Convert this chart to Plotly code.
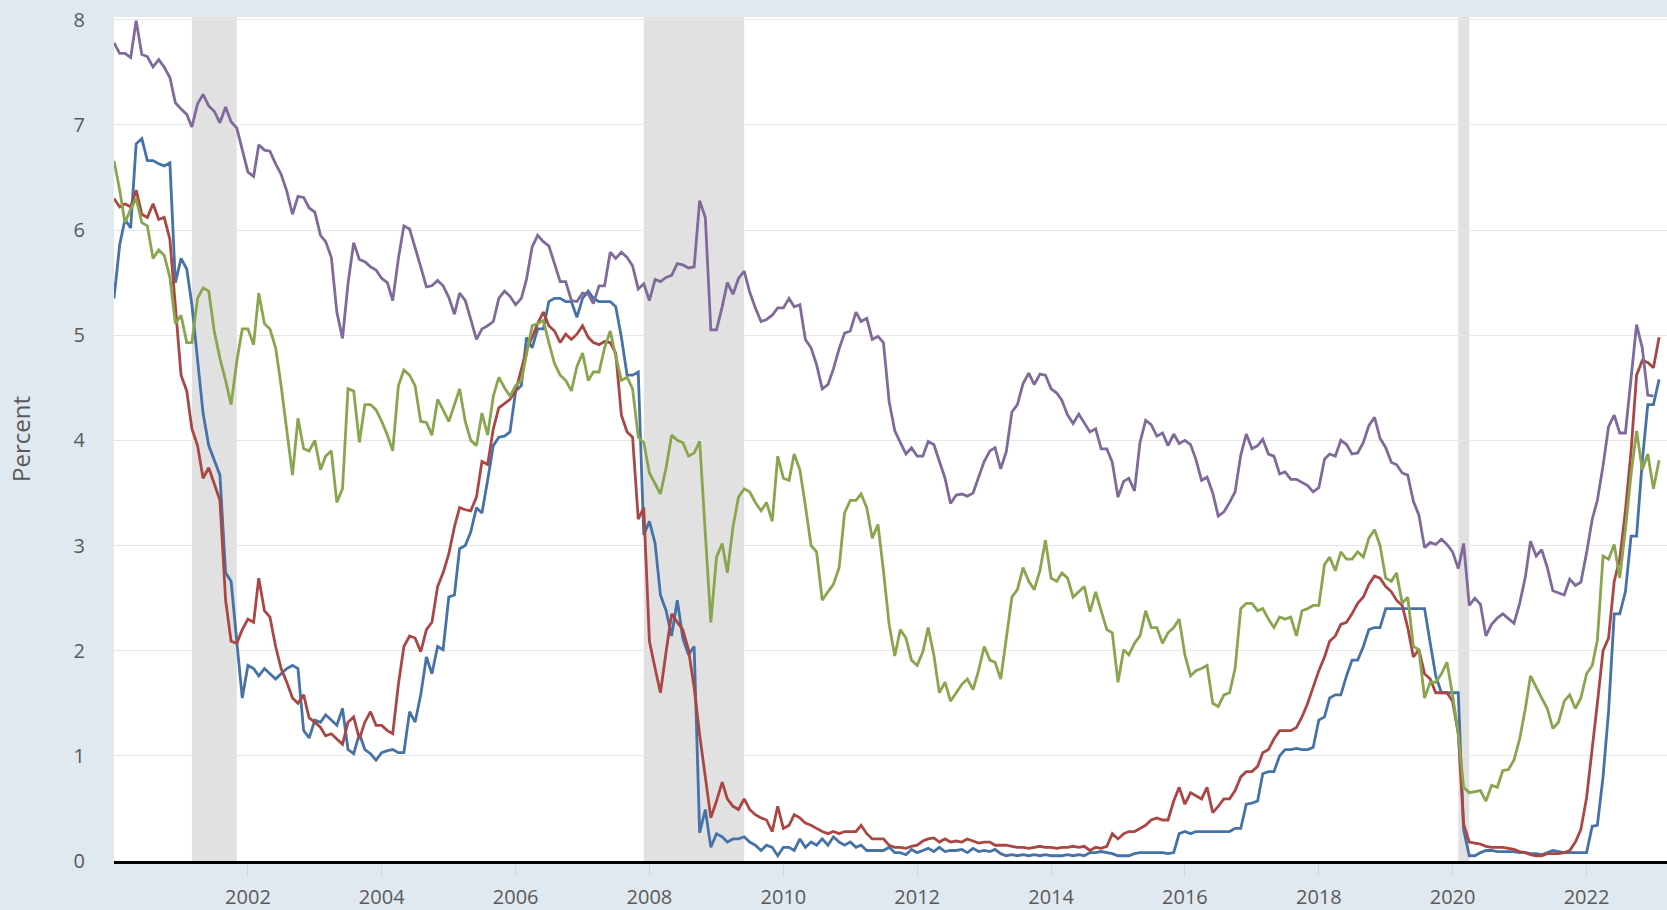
import pandas as pd
import plotly.graph_objects as go

blue = [
    5.35, 5.86, 6.10, 6.02, 6.82, 6.87, 6.66, 6.66, 6.63, 6.61, 6.64, 5.50,
    5.73, 5.63, 5.29, 4.73, 4.26, 3.95, 3.82, 3.67, 2.74, 2.66, 2.09, 1.55,
    1.86, 1.83, 1.76, 1.83, 1.78, 1.73, 1.78, 1.83, 1.86, 1.83, 1.24, 1.17,
    1.34, 1.32, 1.39, 1.34, 1.29, 1.45, 1.06, 1.02, 1.21, 1.06, 1.02, 0.96,
    1.03, 1.05, 1.06, 1.03, 1.03, 1.42, 1.32, 1.58, 1.94, 1.78, 2.04, 2.01,
    2.51, 2.53, 2.97, 3.00, 3.13, 3.36, 3.31, 3.62, 3.95, 4.03, 4.04, 4.08,
    4.47, 4.52, 4.98, 4.88, 5.06, 5.06, 5.32, 5.35, 5.35, 5.32, 5.32, 5.17,
    5.35, 5.42, 5.35, 5.32, 5.32, 5.32, 5.27, 4.98, 4.62, 4.62, 4.65, 3.10,
    3.23, 3.02, 2.53, 2.38, 2.14, 2.48, 2.12, 1.96, 2.04, 0.27, 0.49, 0.13,
    0.26, 0.23, 0.18, 0.21, 0.21, 0.23, 0.18, 0.15, 0.10, 0.15, 0.13, 0.05,
    0.13, 0.13, 0.10, 0.21, 0.13, 0.18, 0.15, 0.21, 0.15, 0.23, 0.18, 0.15,
    0.18, 0.13, 0.15, 0.10, 0.10, 0.10, 0.10, 0.13, 0.08, 0.08, 0.06, 0.11,
    0.08, 0.10, 0.12, 0.09, 0.13, 0.09, 0.10, 0.10, 0.11, 0.08, 0.12, 0.09,
    0.10, 0.09, 0.11, 0.07, 0.05, 0.06, 0.05, 0.06, 0.05, 0.06, 0.05, 0.06,
    0.05, 0.05, 0.05, 0.06, 0.05, 0.06, 0.05, 0.08, 0.08, 0.09, 0.08, 0.07,
    0.05, 0.05, 0.05, 0.07, 0.08, 0.08, 0.08, 0.08, 0.08, 0.07, 0.08, 0.26,
    0.28, 0.26, 0.28, 0.28, 0.28, 0.28, 0.28, 0.28, 0.28, 0.31, 0.31, 0.54,
    0.55, 0.57, 0.83, 0.85, 0.85, 1.00, 1.06, 1.06, 1.07, 1.06, 1.06, 1.08,
    1.34, 1.37, 1.55, 1.58, 1.58, 1.76, 1.91, 1.91, 2.04, 2.20, 2.22, 2.22,
    2.40, 2.40, 2.40, 2.40, 2.40, 2.40, 2.40, 2.40, 2.07, 1.76, 1.60, 1.60,
    1.60, 1.60, 0.30, 0.05, 0.05, 0.08, 0.10, 0.10, 0.09, 0.09, 0.09, 0.09,
    0.08, 0.08, 0.07, 0.07, 0.06, 0.08, 0.10, 0.09, 0.08, 0.08, 0.08, 0.08,
    0.08, 0.33, 0.34, 0.80, 1.42, 2.35, 2.35, 2.56, 3.09, 3.09, 3.80, 4.34,
    4.34, 4.58,
]

red = [
    6.30, 6.22, 6.25, 6.22, 6.38, 6.15, 6.12, 6.25, 6.10, 6.12, 5.91, 5.29,
    4.62, 4.47, 4.11, 3.95, 3.64, 3.74, 3.59, 3.43, 2.48, 2.09, 2.07, 2.20,
    2.30, 2.27, 2.69, 2.38, 2.32, 2.04, 1.83, 1.70, 1.55, 1.50, 1.58, 1.36,
    1.32, 1.27, 1.19, 1.21, 1.16, 1.11, 1.32, 1.37, 1.16, 1.32, 1.42, 1.29,
    1.29, 1.24, 1.21, 1.68, 2.04, 2.14, 2.12, 1.99, 2.20, 2.27, 2.61, 2.74,
    2.92, 3.18, 3.36, 3.34, 3.33, 3.46, 3.80, 3.77, 4.11, 4.31, 4.35, 4.39,
    4.47, 4.67, 4.86, 4.98, 5.11, 5.22, 5.09, 5.04, 4.93, 5.01, 4.96, 5.01,
    5.09, 4.98, 4.93, 4.91, 4.94, 4.93, 4.83, 4.24, 4.08, 4.03, 3.25, 3.36,
    2.09, 1.83, 1.60, 1.99, 2.35, 2.27, 2.20, 2.01, 1.65, 1.20, 0.80, 0.41,
    0.57, 0.75, 0.59, 0.52, 0.49, 0.59, 0.49, 0.44, 0.41, 0.39, 0.28, 0.52,
    0.31, 0.34, 0.44, 0.41, 0.36, 0.34, 0.31, 0.28, 0.26, 0.28, 0.26, 0.28,
    0.28, 0.28, 0.34, 0.26, 0.21, 0.21, 0.21, 0.15, 0.13, 0.13, 0.12, 0.14,
    0.15, 0.19, 0.21, 0.22, 0.18, 0.21, 0.18, 0.19, 0.18, 0.21, 0.19, 0.17,
    0.18, 0.18, 0.15, 0.15, 0.15, 0.14, 0.13, 0.13, 0.12, 0.13, 0.14, 0.13,
    0.13, 0.12, 0.13, 0.13, 0.14, 0.13, 0.14, 0.10, 0.13, 0.12, 0.14, 0.26,
    0.21, 0.26, 0.28, 0.28, 0.31, 0.34, 0.39, 0.41, 0.39, 0.39, 0.57, 0.70,
    0.54, 0.65, 0.62, 0.59, 0.70, 0.46, 0.52, 0.59, 0.59, 0.67, 0.80, 0.85,
    0.85, 0.90, 1.03, 1.06, 1.16, 1.24, 1.24, 1.24, 1.27, 1.37, 1.50, 1.65,
    1.81, 1.94, 2.09, 2.14, 2.25, 2.27, 2.35, 2.45, 2.51, 2.63, 2.71, 2.69,
    2.61, 2.56, 2.48, 2.43, 2.22, 1.94, 2.01, 1.78, 1.73, 1.60, 1.60, 1.60,
    1.52, 1.21, 0.35, 0.18, 0.17, 0.16, 0.14, 0.13, 0.13, 0.13, 0.12, 0.11,
    0.09, 0.08, 0.06, 0.05, 0.05, 0.07, 0.07, 0.07, 0.08, 0.10, 0.18, 0.30,
    0.60, 1.05, 1.50, 2.00, 2.12, 2.66, 2.87, 3.33, 3.90, 4.62, 4.76, 4.74,
    4.69, 4.98,
]

green = [
    6.66, 6.38, 6.07, 6.20, 6.30, 6.07, 6.04, 5.73, 5.81, 5.76, 5.55, 5.11,
    5.19, 4.93, 4.93, 5.35, 5.45, 5.42, 5.04, 4.78, 4.57, 4.34, 4.75, 5.06,
    5.06, 4.91, 5.40, 5.11, 5.06, 4.88, 4.52, 4.11, 3.67, 4.21, 3.92, 3.90,
    4.00, 3.72, 3.85, 3.90, 3.41, 3.54, 4.49, 4.47, 3.98, 4.34, 4.34, 4.29,
    4.18, 4.05, 3.90, 4.52, 4.67, 4.62, 4.52, 4.18, 4.17, 4.05, 4.39, 4.29,
    4.18, 4.34, 4.49, 4.18, 4.00, 3.95, 4.26, 4.05, 4.42, 4.60, 4.50, 4.42,
    4.52, 4.57, 4.83, 5.09, 5.11, 5.14, 4.93, 4.73, 4.62, 4.57, 4.47, 4.70,
    4.83, 4.57, 4.65, 4.65, 4.88, 5.04, 4.80, 4.57, 4.60, 4.49, 4.03, 3.98,
    3.69, 3.59, 3.49, 3.74, 4.05, 4.00, 3.98, 3.85, 3.88, 3.99, 3.13, 2.27,
    2.89, 3.02, 2.74, 3.18, 3.46, 3.54, 3.51, 3.41, 3.33, 3.41, 3.23, 3.85,
    3.64, 3.62, 3.87, 3.72, 3.38, 3.00, 2.94, 2.48, 2.56, 2.63, 2.79, 3.31,
    3.43, 3.43, 3.49, 3.36, 3.07, 3.20, 2.76, 2.25, 1.95, 2.20, 2.12, 1.91,
    1.86, 1.99, 2.22, 1.96, 1.60, 1.70, 1.52, 1.60, 1.68, 1.73, 1.63, 1.81,
    2.04, 1.91, 1.89, 1.73, 2.14, 2.51, 2.58, 2.79, 2.66, 2.58, 2.76, 3.05,
    2.69, 2.66, 2.74, 2.69, 2.51, 2.56, 2.61, 2.37, 2.56, 2.38, 2.20, 2.17,
    1.70, 2.01, 1.96, 2.07, 2.14, 2.38, 2.22, 2.22, 2.07, 2.17, 2.22, 2.30,
    1.96, 1.76, 1.81, 1.83, 1.86, 1.50, 1.47, 1.58, 1.60, 1.83, 2.40, 2.45,
    2.45, 2.38, 2.40, 2.30, 2.22, 2.32, 2.30, 2.32, 2.14, 2.38, 2.40, 2.43,
    2.43, 2.82, 2.89, 2.76, 2.94, 2.87, 2.87, 2.94, 2.89, 3.07, 3.15, 3.00,
    2.69, 2.66, 2.74, 2.45, 2.51, 2.04, 2.01, 1.55, 1.70, 1.70, 1.78, 1.89,
    1.58, 1.21, 0.70, 0.65, 0.66, 0.67, 0.57, 0.72, 0.70, 0.86, 0.87, 0.96,
    1.16, 1.45, 1.76, 1.65, 1.55, 1.45, 1.26, 1.32, 1.52, 1.58, 1.45, 1.55,
    1.78, 1.86, 2.10, 2.90, 2.87, 3.01, 2.69, 3.15, 3.68, 4.09, 3.72, 3.87,
    3.54, 3.81,
]

purple = [
    7.78, 7.68, 7.68, 7.64, 7.99, 7.67, 7.65, 7.55, 7.62, 7.55, 7.45, 7.21,
    7.15, 7.10, 6.98, 7.20, 7.29, 7.18, 7.13, 7.02, 7.17, 7.03, 6.97, 6.77,
    6.55, 6.51, 6.81, 6.76, 6.75, 6.63, 6.53, 6.37, 6.15, 6.32, 6.31, 6.21,
    6.17, 5.95, 5.89, 5.74, 5.22, 4.97, 5.49, 5.88, 5.72, 5.70, 5.65, 5.62,
    5.54, 5.50, 5.33, 5.73, 6.04, 6.01, 5.82, 5.65, 5.46, 5.47, 5.52, 5.47,
    5.36, 5.20, 5.40, 5.33, 5.15, 4.96, 5.06, 5.09, 5.13, 5.35, 5.42, 5.37,
    5.29, 5.35, 5.53, 5.84, 5.95, 5.89, 5.85, 5.68, 5.51, 5.51, 5.33, 5.32,
    5.40, 5.39, 5.30, 5.47, 5.47, 5.79, 5.73, 5.79, 5.74, 5.66, 5.44, 5.49,
    5.33, 5.53, 5.51, 5.55, 5.57, 5.68, 5.67, 5.64, 5.65, 6.28, 6.12, 5.05,
    5.05, 5.27, 5.50, 5.39, 5.54, 5.61, 5.41, 5.26, 5.13, 5.15, 5.19, 5.26,
    5.26, 5.35, 5.27, 5.29, 4.96, 4.88, 4.72, 4.49, 4.53, 4.68, 4.87, 5.02,
    5.04, 5.22, 5.13, 5.16, 4.96, 4.99, 4.93, 4.37, 4.09, 3.98, 3.87, 3.93,
    3.85, 3.85, 3.99, 3.96, 3.80, 3.64, 3.40, 3.48, 3.49, 3.47, 3.50, 3.65,
    3.80, 3.90, 3.93, 3.73, 3.89, 4.27, 4.34, 4.54, 4.64, 4.53, 4.63, 4.62,
    4.49, 4.45, 4.38, 4.24, 4.16, 4.25, 4.16, 4.08, 4.11, 3.92, 3.92, 3.79,
    3.46, 3.61, 3.64, 3.52, 3.98, 4.19, 4.15, 4.04, 4.07, 3.95, 4.06, 3.97,
    4.00, 3.96, 3.82, 3.62, 3.65, 3.50, 3.28, 3.32, 3.41, 3.51, 3.86, 4.06,
    3.92, 3.95, 4.01, 3.87, 3.85, 3.68, 3.70, 3.63, 3.63, 3.60, 3.57, 3.51,
    3.55, 3.82, 3.87, 3.85, 4.00, 3.96, 3.87, 3.88, 3.98, 4.14, 4.22, 4.02,
    3.93, 3.79, 3.77, 3.69, 3.67, 3.42, 3.29, 2.98, 3.03, 3.01, 3.06, 3.01,
    2.94, 2.78, 3.02, 2.43, 2.50, 2.44, 2.14, 2.25, 2.31, 2.35, 2.30, 2.26,
    2.45, 2.70, 3.04, 2.90, 2.96, 2.79, 2.57, 2.55, 2.53, 2.68, 2.62, 2.65,
    2.93, 3.25, 3.43, 3.76, 4.13, 4.24, 4.07, 4.07, 4.59, 5.10, 4.88, 4.43,
    4.42,
]

recessions = [("2001-03-01", "2001-11-01"),
              ("2007-12-01", "2009-06-01"),
              ("2020-02-01", "2020-04-01")]

tick_years = list(range(2002, 2024, 2))
y_ticks = list(range(0, 9))

dates = pd.date_range("2000-01-01", periods=len(blue), freq="MS")

fig = go.Figure()

series = [(blue, "#4572a7"), (red, "#aa4643"), (green, "#89a54e"), (purple, "#80699b")]
for values, color in series:
    fig.add_trace(go.Scatter(x=dates[:len(values)], y=values, mode="lines",
                             line=dict(color=color, width=2.8), hoverinfo="skip"))

# Recession shading
for start, end in recessions:
    fig.add_vrect(x0=start, x1=end, fillcolor="#e1e1e1", line_width=0,
                  layer="below", opacity=1)

fig.update_layout(
    width=1667, height=910,
    paper_bgcolor="#e1e9f0", plot_bgcolor="#ffffff",
    margin=dict(l=114, r=0, t=17, b=43),
    showlegend=False,
    font=dict(family="Open Sans", size=20, color="#595959"),
)

fig.update_xaxes(
    type="date", range=["2000-01-01", "2023-03-16"],
    tickvals=[f"{y}-01-01" for y in tick_years],
    ticktext=[str(y) for y in tick_years],
    ticks="outside", ticklen=12, tickcolor="#ccd6eb", tickwidth=1,
    showgrid=False, zeroline=False,
    showline=True, linecolor="#000000", linewidth=3,
    ticklabelstandoff=4,
)

fig.update_yaxes(
    range=[0, 8.026], tickvals=y_ticks,
    showgrid=True, gridcolor="#e6e6e6", gridwidth=1,
    zeroline=False, showline=False, ticks="",
    ticklabelstandoff=28,
    title=dict(text="Percent", standoff=36),
)

fig.write_html("out.html", config={"displayModeBar": False},
               post_script="document.body.style.margin='0';")
